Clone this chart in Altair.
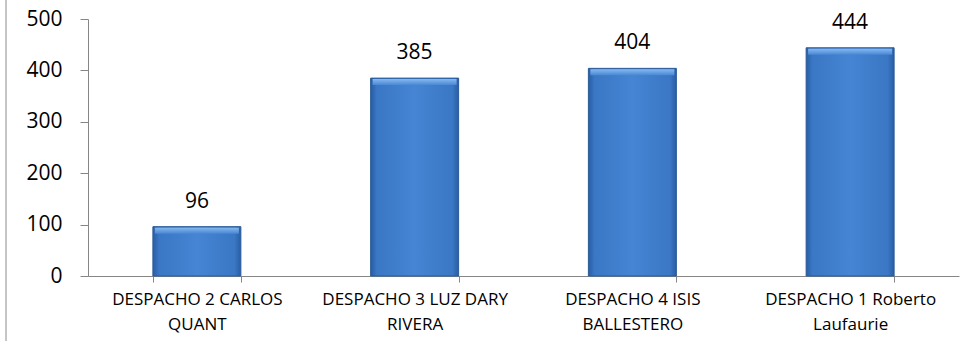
import altair as alt
import pandas as pd

# Case totals per office
despachos = [
    "DESPACHO 2 CARLOS\nQUANT",
    "DESPACHO 3 LUZ DARY\nRIVERA",
    "DESPACHO 4 ISIS\nBALLESTERO",
    "DESPACHO 1 Roberto\nLaufaurie",
]
totales = [96, 385, 404, 444]
y_ticks = [0, 100, 200, 300, 400, 500]

df = pd.DataFrame({"despacho": despachos, "total": totales})

FONT = "Open Sans"
AXIS_GREY = "#868686"
PLOT_W = 871
PLOT_H = 257

x_enc = alt.X(
    "despacho:N",
    sort=despachos,
    title=None,
    scale=alt.Scale(paddingInner=0.596, paddingOuter=0.298),
    axis=alt.Axis(
        labelAngle=0,
        labelExpr="split(datum.label, '\\n')",
        labelFontSize=17,
        labelLineHeight=25,
        labelPadding=9,
        labelBaseline="top",
        tickBand="extent",
        tickSize=6,
        labelLimit=300,
    ),
)
y_enc = alt.Y(
    "total:Q",
    title=None,
    scale=alt.Scale(domain=[0, 500], nice=False),
    axis=alt.Axis(values=y_ticks, tickSize=8, labelPadding=18, labelFontSize=21),
)

# Bevelled blue bars: darker edges, lighter centre
bar_fill = alt.Gradient(
    gradient="linear",
    x1=0, x2=1, y1=0, y2=0,
    stops=[
        alt.GradientStop(color="#285da4", offset=0),
        alt.GradientStop(color="#3a77c4", offset=0.07),
        alt.GradientStop(color="#4585d3", offset=0.5),
        alt.GradientStop(color="#3a77c4", offset=0.93),
        alt.GradientStop(color="#285da4", offset=1),
    ],
)
top_fill = alt.Gradient(
    gradient="linear",
    x1=0, x2=0, y1=0, y2=1,
    stops=[
        alt.GradientStop(color="#86b8f0", offset=0),
        alt.GradientStop(color="#4887d4", offset=1),
    ],
)

bars = alt.Chart(df).mark_bar(fill=bar_fill, stroke="#2b5a98", strokeWidth=1).encode(
    x=x_enc, y=y_enc
)
bevel = alt.Chart(df).mark_tick(
    color=top_fill, thickness=6, size=84, yOffset=4, opacity=1
).encode(x=alt.X("despacho:N", sort=despachos), y="total:Q")
labels = alt.Chart(df).mark_text(
    dy=-19, baseline="alphabetic", fontSize=21, font=FONT, color="black"
).encode(x=alt.X("despacho:N", sort=despachos), y="total:Q", text="total:Q")

# Left edge of the chart frame
frame = alt.Chart(alt.Data(values=[{}])).mark_rule(color="#8c8c8c", strokeWidth=1).encode(
    x=alt.value(-82), y=alt.value(-19), y2=alt.value(322)
)

chart = (
    alt.layer(frame, bars, bevel, labels)
    .properties(
        width=PLOT_W,
        height=PLOT_H,
        autosize=alt.AutoSizeParams(type="none"),
        padding={"left": 88, "top": 19, "right": 1, "bottom": 65},
    )
    .configure_view(stroke=None)
    .configure_axis(
        domainColor=AXIS_GREY,
        tickColor=AXIS_GREY,
        labelColor="black",
        labelFont=FONT,
        grid=False,
    )
)

chart.save("out.html", embed_options={"renderer": "svg", "actions": False})
